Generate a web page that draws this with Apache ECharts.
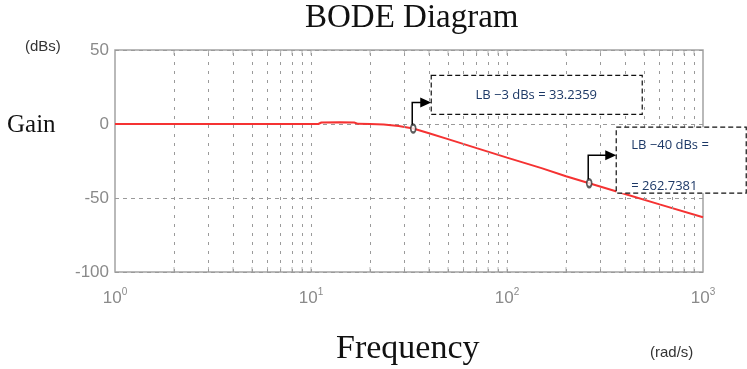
<!DOCTYPE html>
<html>
<head>
<meta charset="utf-8">
<script src="https://cdn.jsdelivr.net/npm/echarts@6/dist/echarts.min.js"></script>
<style>
  html, body { margin: 0; padding: 0; background: #fff; }
  #chart { width: 747px; height: 369px; }
</style>
</head>
<body>
<div id="chart"></div>
<script>
// 频率 (rad/s) 与增益 (dB)
var freqs = [1, 2, 5, 10, 10.9, 11.3, 14, 16.6, 17.4, 20, 23.5, 28, 33.2359, 40, 50, 70, 100, 150, 200, 262.7381, 400, 600, 1000]
var gains = [0, 0, 0, 0, 0, 1, 1.1, 1, 0.1, 0, -0.4, -1.4, -3, -6.2, -10.2, -16.3, -22.7, -29.8, -35.3, -40, -47.3, -54.3, -63]

// 虚线网格位置（每个十倍频程内 2..9 以及 10、100）
var gridFreqs = [2, 3, 4, 5, 6, 7, 8, 9, 10, 20, 30, 40, 50, 60, 70, 80, 90, 100, 200, 300, 400, 500, 600, 700, 800, 900]
var xTickExp = ['0', '1', '2', '3']
var yTicks = [50, 0, -50, -100]

// 标注点
var markFreqs = [33.2359, 262.7381]
var markGains = [-3, -40]
var markTexts = [['LB \u22123 dBs = 33.2359'], ['LB \u221240 dBs =', '= 262.7381']]

var lineData = freqs.map(function (f, i) { return [f, gains[i]] })
var markData = markFreqs.map(function (f, i) { return [f, markGains[i]] })
var tickBottom = gridFreqs.map(function (f) { return [f, yTicks[3]] })
var tickTop = gridFreqs.map(function (f) { return [f, yTicks[0]] })

var myChart = echarts.init(document.getElementById('chart'))
myChart.setOption({
    animation: false,
    title: {
        text: 'BODE Diagram',
        left: 300,
        top: -3,
        textStyle: { fontFamily: 'Liberation Serif', fontSize: 33, fontWeight: 'normal', color: '#111' }
    },
    grid: {
        left: 115, right: 44, top: 50, bottom: 97,
        show: true, borderColor: '#a3a3a3', borderWidth: 1.5
    },
    xAxis: {
        type: 'log',
        logBase: 10,
        min: 1,
        max: 1000,
        axisLine: { show: false },
        axisTick: { show: false },
        splitLine: { show: false },
        axisLabel: {
            margin: 15,
            formatter: function (v) {
                var e = Math.round(Math.log(v) / Math.LN10)
                return '{b|10}{s|' + xTickExp[e] + '}'
            },
            rich: {
                b: { fontFamily: 'Liberation Sans', fontSize: 17, color: '#8a8a8a' },
                s: { fontFamily: 'Liberation Sans', fontSize: 10, color: '#8a8a8a', padding: [0, 0, 12, 0] }
            }
        }
    },
    yAxis: {
        type: 'value',
        min: -100,
        max: 50,
        interval: 50,
        axisLine: { show: false },
        axisTick: { show: false },
        axisLabel: {
            margin: 6,
            fontFamily: 'Liberation Sans',
            fontSize: 17,
            color: '#8a8a8a'
        },
        splitLine: {
            show: true,
            lineStyle: { color: '#9a9a9a', type: [4, 4], width: 1 }
        }
    },
    series: [
        {
            type: 'line',
            data: [],
            silent: true,
            markLine: {
                silent: true,
                symbol: 'none',
                label: { show: false },
                lineStyle: { color: '#9a9a9a', type: [3, 6], width: 1 },
                data: gridFreqs.map(function (f) { return { xAxis: f } })
            }
        },
        {
            type: 'scatter',
            data: tickBottom,
            symbol: 'rect',
            symbolSize: [1, 5],
            symbolOffset: [0, -2.5],
            itemStyle: { color: '#a3a3a3' },
            silent: true
        },
        {
            type: 'scatter',
            data: tickTop,
            symbol: 'rect',
            symbolSize: [1, 5],
            symbolOffset: [0, 2.5],
            itemStyle: { color: '#a3a3a3' },
            silent: true
        },
        {
            type: 'line',
            data: lineData,
            showSymbol: false,
            lineStyle: { color: '#f53232', width: 2 },
            silent: true
        },
        {
            type: 'scatter',
            data: markData,
            symbol: 'emptyCircle',
            symbolSize: [5, 8],
            itemStyle: { color: '#333', borderWidth: 1.2 },
            silent: true,
            z: 5
        }
    ]
})

// 注释框与箭头，位置由数据点换算得到
var p1 = myChart.convertToPixel({ gridIndex: 0 }, markData[0])
var p2 = myChart.convertToPixel({ gridIndex: 0 }, markData[1])
var noteFont = { fontFamily: 'Open Sans', fontSize: 13, fill: '#1c3866' }

function arrow(p, dy, toX) {
    return [
        { type: 'polyline', shape: { points: [[p[0] - 1, p[1] - 4], [p[0] - 1, p[1] + dy], [toX - 9, p[1] + dy]] }, style: { stroke: '#000', lineWidth: 1.5, fill: null } },
        { type: 'polygon', shape: { points: [[toX - 11, p[1] + dy - 5], [toX, p[1] + dy], [toX - 11, p[1] + dy + 5]] }, style: { fill: '#000' } }
    ]
}

var graphics = [
    { type: 'text', left: 7, top: 113, style: { text: 'Gain', font: '25px "Liberation Serif"', fill: '#111' } },
    { type: 'text', left: 25, top: 39, style: { text: '(dBs)', font: '15px "Liberation Sans"', fill: '#333' } },
    { type: 'text', left: 336, top: 332, style: { text: 'Frequency', font: '34px "Liberation Serif"', fill: '#111' } },
    { type: 'text', left: 650, top: 345, style: { text: '(rad/s)', font: '15px "Liberation Sans"', fill: '#333' } },
    // 第一个注释框
    { type: 'rect', shape: { x: p1[0] + 18, y: p1[1] - 53, width: 211, height: 39 }, style: { stroke: '#111', lineWidth: 1.2, lineDash: [5, 3], fill: '#fff' }, z: 10 },
    { type: 'text', x: p1[0] + 123, y: p1[1] - 33, style: Object.assign({ text: markTexts[0][0], align: 'center', verticalAlign: 'middle' }, noteFont), z: 11 },
    // 第二个注释框
    { type: 'rect', shape: { x: p2[0] + 27, y: p2[1] - 56, width: 130, height: 66 }, style: { stroke: '#111', lineWidth: 1.2, lineDash: [5, 3], fill: '#fff' }, z: 10 },
    { type: 'text', x: p2[0] + 42, y: p2[1] - 38, style: Object.assign({ text: markTexts[1][0], verticalAlign: 'middle' }, noteFont), z: 11 },
    { type: 'text', x: p2[0] + 42, y: p2[1] + 3, style: Object.assign({ text: markTexts[1][1], verticalAlign: 'middle' }, noteFont), z: 11 }
]
graphics = graphics.concat(arrow(p1, -26, p1[0] + 18)).concat(arrow(p2, -28, p2[0] + 27))
graphics.forEach(function (g) { if (!g.z) g.z = 10 })
myChart.setOption({ graphic: graphics })
</script>
</body>
</html>
